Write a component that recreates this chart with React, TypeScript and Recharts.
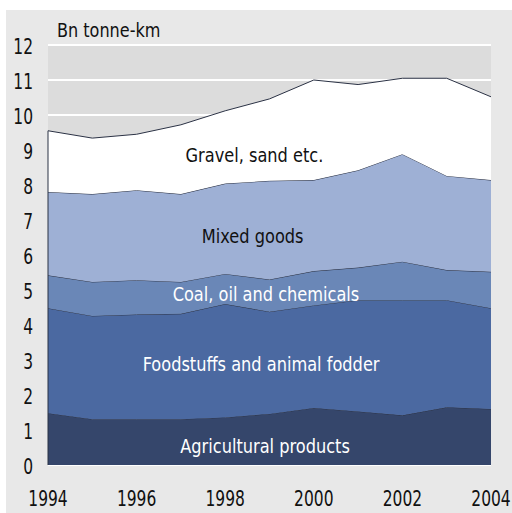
import React from "react";
import {
  Area,
  AreaChart,
  CartesianGrid,
  ReferenceDot,
  ReferenceLine,
  XAxis,
  YAxis,
} from "recharts";

// ---------------------------------------------------------------------------
// Data (Bn tonne-km, stacked from the bottom)
// ---------------------------------------------------------------------------

const years = [1994, 1995, 1996, 1997, 1998, 1999, 2000, 2001, 2002, 2003, 2004];
const agricultural = [1.48, 1.31, 1.31, 1.31, 1.36, 1.46, 1.63, 1.53, 1.42, 1.65, 1.6];
const foodstuffs = [3.0, 2.95, 2.99, 3.01, 3.24, 2.92, 2.93, 3.18, 3.29, 3.06, 2.88];
const coalOil = [0.94, 0.97, 0.98, 0.91, 0.86, 0.92, 0.98, 0.93, 1.1, 0.86, 1.04];
const mixedGoods = [2.38, 2.51, 2.57, 2.51, 2.58, 2.82, 2.6, 2.78, 3.07, 2.69, 2.62];
const gravelSand = [1.75, 1.6, 1.6, 1.98, 2.08, 2.34, 2.86, 2.45, 2.17, 2.79, 2.38];

const yTicks = [0, 1, 2, 3, 4, 5, 6, 7, 8, 9, 10, 11, 12];
const xTicks = [1994, 1996, 1998, 2000, 2002, 2004];

const seriesDefs = [
  { key: "agri", name: "Agricultural products", values: agricultural, color: "#35466b", labelColor: "#fff", labelAt: [1998.9, 0.54] },
  { key: "food", name: "Foodstuffs and animal fodder", values: foodstuffs, color: "#4b69a1", labelColor: "#fff", labelAt: [1998.81, 2.9] },
  { key: "coal", name: "Coal, oil and chemicals", values: coalOil, color: "#6a87b7", labelColor: "#fff", labelAt: [1998.92, 4.9] },
  { key: "mixed", name: "Mixed goods", values: mixedGoods, color: "#9eb0d5", labelColor: "#111", labelAt: [1998.62, 6.53] },
  { key: "gravel", name: "Gravel, sand etc.", values: gravelSand, color: "#ffffff", labelColor: "#111", labelAt: [1998.66, 8.85] },
];

// no condensed humanist font available, so squeeze DejaVu a bit horizontally
const FONT = "'DejaVu Sans Condensed', 'DejaVu Sans', sans-serif";

const data = years.map((year, i) => {
  const row: Record<string, number> = { year };
  seriesDefs.forEach((s) => {
    row[s.key] = s.values[i];
  });
  return row;
});

const firstTotal = seriesDefs.reduce((sum, s) => sum + s.values[0], 0);

// ---------------------------------------------------------------------------
// Text helpers
// ---------------------------------------------------------------------------

function SqueezedText({ x, y, anchor, size, squeeze, color, children }: any) {
  return (
    <text
      transform={`translate(${x},${y}) scale(${squeeze},1)`}
      x={0}
      y={0}
      textAnchor={anchor}
      fontSize={size}
      fontFamily={FONT}
      fill={color}
    >
      {children}
    </text>
  );
}

function YTick(props: any) {
  const { x, y, payload } = props;
  return (
    <SqueezedText x={x - 15} y={y + 9} anchor="end" size={21} squeeze={0.82} color="#111">
      {payload.value}
    </SqueezedText>
  );
}

function XTick(props: any) {
  const { x, y, payload } = props;
  return (
    <SqueezedText x={x} y={y + 41} anchor="middle" size={21} squeeze={0.82} color="#111">
      {payload.value}
    </SqueezedText>
  );
}

function AreaLabel(props: any) {
  const { viewBox, text, color } = props;
  if (!viewBox) return null;
  const cx = viewBox.x + (viewBox.width || 0) / 2;
  const cy = viewBox.y + (viewBox.height || 0) / 2;
  return (
    <SqueezedText x={cx} y={cy + 7} anchor="middle" size={20} squeeze={0.9} color={color}>
      {text}
    </SqueezedText>
  );
}

export default function App() {
  return (
    <div
      style={{
        position: "absolute",
        left: 0,
        top: 0,
        width: 512,
        height: 513,
        background: "#ffffff",
        overflow: "hidden",
      }}
    >
      {/* outer grey panel */}
      <div
        style={{
          position: "absolute",
          left: 6,
          top: 10,
          right: 0,
          bottom: 0,
          background: "#e8e8e8",
        }}
      />
      <div
        style={{
          position: "absolute",
          left: 57,
          top: 21,
          fontFamily: FONT,
          fontSize: 19,
          lineHeight: "19px",
          color: "#111",
          whiteSpace: "nowrap",
          transform: "scaleX(0.94)",
          transformOrigin: "left top",
        }}
      >
        Bn tonne-km
      </div>
      <div style={{ position: "absolute", left: 0, top: 0 }}>
        <AreaChart
          width={512}
          height={513}
          data={data}
          margin={{ top: 45, right: 21, left: 8, bottom: 18 }}
        >
          <CartesianGrid
            horizontal
            vertical={false}
            fill="#dcdcdc"
            stroke="#ffffff"
            strokeWidth={2}
          />
          <XAxis
            dataKey="year"
            type="number"
            domain={[1994, 2004]}
            ticks={xTicks}
            axisLine={false}
            tickLine={false}
            tickSize={0}
            tickMargin={0}
            height={30}
            tick={<XTick />}
            interval={0}
          />
          <YAxis
            type="number"
            domain={[0, 12]}
            ticks={yTicks}
            axisLine={false}
            tickLine={false}
            tickSize={0}
            tickMargin={0}
            width={40}
            tick={<YTick />}
            interval={0}
          />
          {seriesDefs.map((s) => (
            <Area
              key={s.key}
              type="linear"
              dataKey={s.key}
              name={s.name}
              stackId="1"
              fill={s.color}
              fillOpacity={1}
              stroke="#2b3245"
              strokeWidth={1}
              isAnimationActive={false}
              dot={false}
              activeDot={false}
            />
          ))}
          <ReferenceLine
            segment={[
              { x: 1994, y: 0 },
              { x: 1994, y: firstTotal },
            ]}
            stroke="#2b3245"
            strokeWidth={1}
          />
          {seriesDefs.map((s) => (
            <ReferenceDot
              key={`lbl-${s.key}`}
              x={s.labelAt[0]}
              y={s.labelAt[1]}
              r={0}
              fill="none"
              stroke="none"
              label={<AreaLabel text={s.name} color={s.labelColor} />}
            />
          ))}
        </AreaChart>
      </div>
    </div>
  );
}
